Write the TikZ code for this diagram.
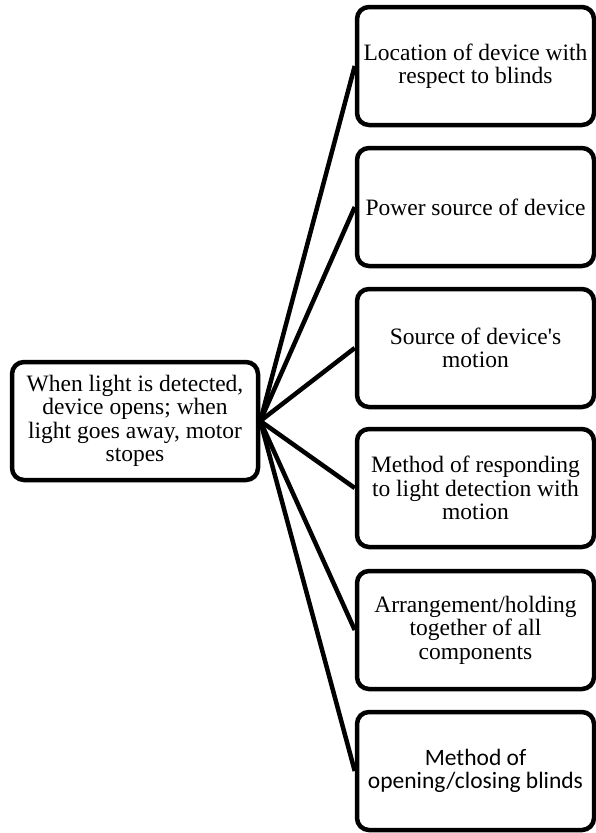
\documentclass[tikz,border=0pt]{standalone}
\usepackage{fontspec}
\setmainfont{Liberation Serif}
\newfontfamily\timesfont{Liberation Serif}
\newfontfamily\calibrifont{Carlito}

\begin{document}
\begin{tikzpicture}[x=1pt,y=-1pt,
    box/.style={draw, line width=4.5pt, rounded corners=12pt, align=center,
      minimum width=237pt, minimum height=118pt, inner sep=2pt,
      font=\timesfont\fontsize{23.5}{23.5}\selectfont},
    link/.style={line width=4.5pt}]
  \useasboundingbox (0,0) rectangle (595,833);
  % Main box
  \node[box, minimum width=246pt] (main) at (135,421)
    {When light is detected,\\device opens; when\\light goes away, motor\\stopes};
  % Aspect boxes
  \node[box] (loc) at (475.5,66) {Location of device with\\respect to blinds};
  \node[box] (power) at (475.5,207) {Power source of device};
  \node[box] (motion) at (475.5,348) {Source of device\textquotesingle s\\motion};
  \node[box] (respond) at (475.5,488) {Method of responding\\to light detection with\\motion};
  \node[box] (arrange) at (475.5,630) {Arrangement/holding\\together of all\\components};
  \node[box] (blinds) at (475.5,771) {\calibrifont Method of\\\calibrifont opening/closing blinds};
  % Links
  \foreach \n in {loc,power,motion,respond,arrange,blinds}
    \draw[link] (main.east) -- (\n.west);
\end{tikzpicture}
\end{document}
